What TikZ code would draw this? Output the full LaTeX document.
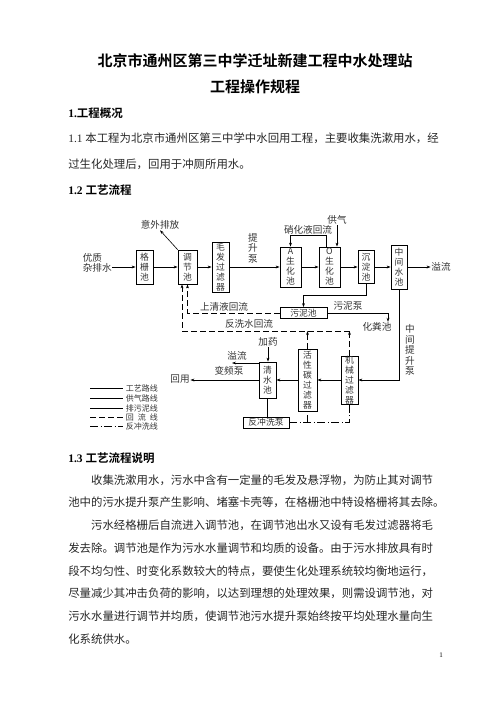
\documentclass[tikz,border=0pt]{standalone}
\usepackage{fontspec}
\setmainfont{Noto Sans CJK SC}[BoldFont={Noto Sans CJK SC Bold}]
\newfontfamily\latin{Liberation Serif}
\usetikzlibrary{arrows.meta}

\tikzset{
  box/.style={draw, line width=0.7pt, inner sep=0pt, align=center,
    font=\fontsize{8.8}{10}\selectfont, text=black!80},
  lbl/.style={inner sep=0.5pt, font=\fontsize{9.6}{10.5}\selectfont, text=black!80},
  ret/.style={dash pattern=on 6pt off 3pt},
  bwash/.style={dash pattern=on 8pt off 2.5pt on 1pt off 2.5pt},
  body/.style={anchor=west, inner sep=0pt, font=\fontsize{11.4}{13}\selectfont, text=black!85},
  head/.style={anchor=west, inner sep=0pt, font=\bfseries\fontsize{11.5}{13}\selectfont},
}

\begin{document}
\begin{tikzpicture}[x=1pt, y=-1pt, line width=0.6pt, >={Stealth[length=4pt,width=2.8pt]}]
\useasboundingbox (0,0) rectangle (496,702);

% title and first sections
\node[font=\bfseries\fontsize{15}{17}\selectfont] (t1) at (255,61) {北京市通州区第三中学迁址新建工程中水处理站};
\node[font=\bfseries\fontsize{15}{17}\selectfont] (t2) at (255,87) {工程操作规程};
\node[head] (h1) at (68,113) {{\latin 1.}工程概况};
\node[body] (s1) at (68,138) {{\latin 1.1 }本工程为北京市通州区第三中学中水回用工程，主要收集洗漱用水，经};
\node[body] (s2) at (68,164) {过生化处理后，回用于冲厕所用水。};
\node[head] (h2) at (68,190) {{\latin 1.2 }工艺流程};

% process units
\node[box, minimum width=17, minimum height=34] (gs) at (144.5,267) {格\\栅\\池};
\node[box, minimum width=19, minimum height=34] (tj) at (187.5,267) {调\\节\\池};
\node[box, minimum width=17, minimum height=50] (mf) at (220.5,267) {毛\\发\\过\\滤\\器};
\node[box, minimum width=21, minimum height=40] (ab) at (290.5,267) {A\\生\\化\\池};
\node[box, minimum width=21, minimum height=40] (ob) at (329.5,267) {O\\生\\化\\池};
\node[box, minimum width=16, minimum height=33] (cd) at (366,267) {沉\\淀\\池};
\node[box, minimum width=16, minimum height=44] (zj) at (399,267) {中\\间\\水\\池};
\node[box, minimum width=47, minimum height=11] (wn) at (303.5,313) {污泥池};
\node[box, minimum width=17, minimum height=36] (qs) at (267.5,380) {清\\水\\池};
\node[box, minimum width=19, minimum height=62] (hx) at (307.5,380) {活\\性\\碳\\过\\滤\\器};
\node[box, minimum width=17, minimum height=48] (jx) at (349.5,380) {机\\械\\过\\滤\\器};
\node[box, minimum width=46, minimum height=11] (fc) at (266,422.5) {反冲洗泵};

% labels
\node[lbl, align=left, anchor=west] (yz) at (82,263) {优质\\杂排水};
\node[lbl] (yw) at (160,225) {意外排放};
\node[lbl, align=center] (tsb) at (253,248) {提\\升\\泵};
\node[lbl] (xh) at (308,230) {硝化液回流};
\node[lbl] (gq) at (337,220) {供气};
\node[lbl] (yl) at (441,267) {溢流};
\node[lbl] (sq) at (224,307) {上清液回流};
\node[lbl] (wnb) at (348,306) {污泥泵};
\node[lbl] (hfc) at (377,327) {化粪池};
\node[lbl] (fx) at (249,324) {反洗水回流};
\node[lbl, align=center] (zts) at (410,350) {中\\间\\提\\升\\泵};
\node[lbl] (jy) at (268,342) {加药};
\node[lbl] (yl2) at (237,356) {溢流};
\node[lbl] (bp) at (229,371) {变频泵};
\node[lbl] (hy) at (180,379) {回用};
\coordinate (fxr) at (182,331);
\coordinate (yle) at (232,363);

% main flow
\draw[->] (yz.east |- gs) -- (gs);
\draw[->] (gs) -- (tj);
\draw[->] (tj.north west) -- (yw.south);
\draw[->] (tj) -- (mf);
\draw[->] (mf) -- (ab);
\draw[->] (ab) -- (ob);
\draw[->] ([xshift=-3.5]ob.north) -- ++(0,-11) -| (ab.north);
\draw[->] (gq.south) -- (gq.south |- ob.north);
\draw[->] (ob) -- (cd);
\draw[->] (cd) -- (zj);
\draw[->] (zj) -- (yl);
\draw[->] (cd.south) -- ++(0,11) -| (wn.north);
\draw[->] (wn.east) -| ([xshift=11]hfc.north);
\draw[->] (zj.south) |- (jx.east);
\draw[->] (jx) -- (hx);
\draw[->] (hx) -- (qs);
\draw[->] (qs.west) -- (qs.west -| hy.east);
\draw[->] (qs.west |- yle) -- (yle);
\draw[->] (jy.south) -- (jy.south |- qs.north);
\draw (qs.south) -- (qs.south |- fc.north);

% return lines
\draw[ret,->] (wn.west) -| (tj.south);
\draw[ret,->] (jx.north) -- (jx.north |- fxr);
\draw[ret,->] (hx.north) -- (hx.north |- fxr);
\draw[ret,->] (jx.north |- fxr) -| ([xshift=-5.5]tj.south);

% backwash
\draw[bwash] (fc.east) -| (jx.south);
\draw[bwash] (fc.east -| hx.south) -- (hx.south);

% legend
\foreach \y/\s/\t in {388/solid/工艺路线, 398/solid/供气路线, 408/solid/排污泥线,
    417/ret/回\hspace{4pt}流\hspace{4pt}线, 426/bwash/反冲洗线} {
  \draw[\s] (90,\y) -- (123,\y);
  \node[lbl, anchor=west, font=\fontsize{8}{9}\selectfont] (lg\y) at (125,\y) {\t};
}

% section 1.3
\node[head] (h3) at (68,458) {{\latin 1.3 }工艺流程说明};
\foreach \t [count=\i] in {
    \hspace{2em}收集洗漱用水，污水中含有一定量的毛发及悬浮物，为防止其对调节,
    池中的污水提升泵产生影响、堵塞卡壳等，在格栅池中特设格栅将其去除。,
    \hspace{2em}污水经格栅后自流进入调节池，在调节池出水又设有毛发过滤器将毛,
    发去除。调节池是作为污水水量调节和均质的设备。由于污水排放具有时,
    段不均匀性、时变化系数较大的特点，要使生化处理系统较均衡地运行，,
    尽量减少其冲击负荷的影响，以达到理想的处理效果，则需设调节池，对,
    污水水量进行调节并均质，使调节池污水提升泵始终按平均处理水量向生,
    化系统供水。} {
  \node[body] (p\i) at (68,{480+22.7*(\i-1)}) {\t};
}
\node[font=\latin\fontsize{7}{8}\selectfont] (pg) at (441,655) {1};
\end{tikzpicture}
\end{document}
